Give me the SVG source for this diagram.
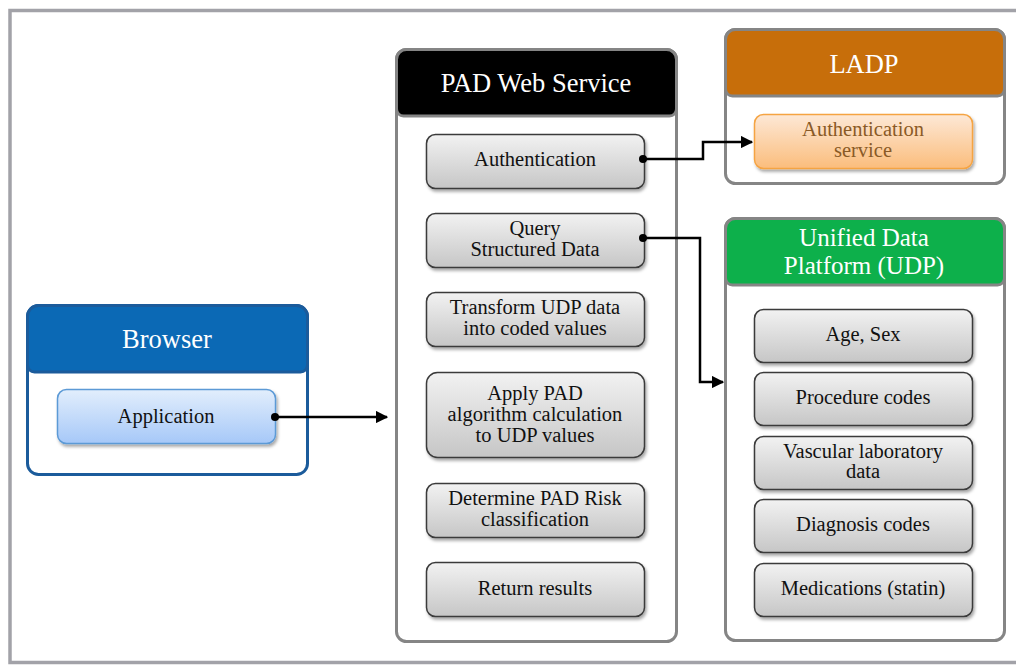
<svg xmlns="http://www.w3.org/2000/svg" width="1016" height="666" viewBox="0 0 1016 666">
<defs>
<linearGradient id="gGray" x1="0" y1="0" x2="0" y2="1">
<stop offset="0" stop-color="#f2f2f2"/><stop offset="1" stop-color="#c6c6c6"/>
</linearGradient>
<linearGradient id="gBlue" x1="0" y1="0" x2="0" y2="1">
<stop offset="0" stop-color="#e2eefc"/><stop offset="1" stop-color="#a6c8f8"/>
</linearGradient>
<linearGradient id="gOrange" x1="0" y1="0" x2="0" y2="1">
<stop offset="0" stop-color="#fde8d6"/><stop offset="1" stop-color="#fbbd7c"/>
</linearGradient>
<filter id="sh" x="-10%" y="-10%" width="125%" height="130%">
<feDropShadow dx="1.5" dy="2.5" stdDeviation="1.5" flood-color="#000" flood-opacity="0.35"/>
</filter>
<marker id="arr" viewBox="0 0 10 10" refX="9" refY="5" markerWidth="5" markerHeight="5" orient="auto" markerUnits="strokeWidth">
<path d="M0,0 L10,5 L0,10 z" fill="#000"/>
</marker>
</defs>
<style>
text{font-family:'Liberation Serif','DejaVu Serif',serif;text-anchor:middle;}
.box{fill:url(#gGray);stroke:#3a3a3a;stroke-width:1.5;filter:url(#sh);}
.lbl{font-size:20.5px;fill:#111;}
.hdr{font-size:26.5px;fill:#fff;}
.hdr2{font-size:25px;fill:#fff;}
.brn{fill:#8a5a26;}
.cont{fill:#fff;stroke:#858585;stroke-width:3;}
.conn{fill:none;stroke:#000;stroke-width:2.5;marker-end:url(#arr);}
</style>
<rect x="0" y="0" width="1016" height="666" fill="#fff"/>
<rect x="10" y="10.5" width="1020" height="652" fill="none" stroke="#a2a2a8" stroke-width="3.5"/>

<g id="browser">
<rect x="27.5" y="305.5" width="280" height="169" rx="11" fill="#fff" stroke="#1b5b9b" stroke-width="3"/>
<path d="M38.5,305.5 H296.5 A11,11 0 0 1 307.5,316.5 V365 A7,7 0 0 1 300.5,372 H34.5 A7,7 0 0 1 27.5,365 V316.5 A11,11 0 0 1 38.5,305.5 Z" fill="#0b69b5" stroke="#1b5b9b" stroke-width="3"/>
<text class="hdr" x="167" y="348">Browser</text>
<rect x="57.5" y="389.5" width="218" height="54" rx="9" fill="url(#gBlue)" stroke="#5c9ad6" stroke-width="1.5" filter="url(#sh)"/>
<text class="lbl" x="166" y="423">Application</text>
</g>

<g id="pad">
<rect x="396.5" y="49.5" width="280" height="592" rx="10" class="cont"/>
<path d="M406.5,49.5 H666.5 A10,10 0 0 1 676.5,59.5 V109 A7,7 0 0 1 669.5,116 H403.5 A7,7 0 0 1 396.5,109 V59.5 A10,10 0 0 1 406.5,49.5 Z" fill="#000" stroke="#858585" stroke-width="3"/>
<text class="hdr" x="536" y="92">PAD Web Service</text>
<rect x="426.5" y="134.5" width="218" height="54" rx="9" class="box"/>
<text class="lbl" x="535" y="166">Authentication</text>
<rect x="426.5" y="213.5" width="218" height="54" rx="9" class="box"/>
<text class="lbl" x="535" y="235">Query</text>
<text class="lbl" x="535" y="256">Structured Data</text>
<rect x="426.5" y="292.5" width="218" height="54" rx="9" class="box"/>
<text class="lbl" x="535" y="314">Transform UDP data</text>
<text class="lbl" x="535" y="335">into coded values</text>
<rect x="426.5" y="372.5" width="218" height="85" rx="11" class="box"/>
<text class="lbl" x="535" y="400">Apply PAD</text>
<text class="lbl" x="535" y="421">algorithm calculation</text>
<text class="lbl" x="535" y="442">to UDP values</text>
<rect x="426.5" y="483.5" width="218" height="54" rx="9" class="box"/>
<text class="lbl" x="535" y="505">Determine PAD Risk</text>
<text class="lbl" x="535" y="526">classification</text>
<rect x="426.5" y="562.5" width="218" height="54" rx="9" class="box"/>
<text class="lbl" x="535" y="595">Return results</text>
</g>

<g id="ladp">
<rect x="725.5" y="29.5" width="279" height="154" rx="10" class="cont"/>
<path d="M735.5,29.5 H994.5 A10,10 0 0 1 1004.5,39.5 V89 A7,7 0 0 1 997.5,96 H732.5 A7,7 0 0 1 725.5,89 V39.5 A10,10 0 0 1 735.5,29.5 Z" fill="#c76e0a" stroke="#858585" stroke-width="3"/>
<text class="hdr" x="864" y="73">LADP</text>
<rect x="754.5" y="114.5" width="218" height="54" rx="9" fill="url(#gOrange)" stroke="#f5a443" stroke-width="1.5" filter="url(#sh)"/>
<text class="lbl brn" x="863" y="136">Authentication</text>
<text class="lbl brn" x="863" y="157">service</text>
</g>

<g id="udp">
<rect x="725.5" y="218.5" width="279" height="422" rx="10" class="cont"/>
<path d="M735.5,218.5 H994.5 A10,10 0 0 1 1004.5,228.5 V278 A7,7 0 0 1 997.5,285 H732.5 A7,7 0 0 1 725.5,278 V228.5 A10,10 0 0 1 735.5,218.5 Z" fill="#0db04b" stroke="#858585" stroke-width="3"/>
<text class="hdr2" x="864" y="246">Unified Data</text>
<text class="hdr2" x="864" y="274">Platform (UDP)</text>
<rect x="754.5" y="309.5" width="218" height="53" rx="9" class="box"/>
<text class="lbl" x="863" y="341">Age, Sex</text>
<rect x="754.5" y="372.5" width="218" height="53" rx="9" class="box"/>
<text class="lbl" x="863" y="404">Procedure codes</text>
<rect x="754.5" y="436.5" width="218" height="53" rx="9" class="box"/>
<text class="lbl" x="863" y="458">Vascular laboratory</text>
<text class="lbl" x="863" y="478">data</text>
<rect x="754.5" y="499.5" width="218" height="53" rx="9" class="box"/>
<text class="lbl" x="863" y="531">Diagnosis codes</text>
<rect x="754.5" y="563.5" width="218" height="53" rx="9" class="box"/>
<text class="lbl" x="863" y="595">Medications (statin)</text>
</g>

<g id="connectors">
<circle cx="275" cy="417" r="4" fill="#000"/>
<path class="conn" d="M275,417 H387"/>
<circle cx="643" cy="159" r="4" fill="#000"/>
<path class="conn" d="M643,159 H703 V142 H752"/>
<circle cx="643" cy="238" r="4" fill="#000"/>
<path class="conn" d="M643,238 H700 V382 H723"/>
</g>
</svg>
